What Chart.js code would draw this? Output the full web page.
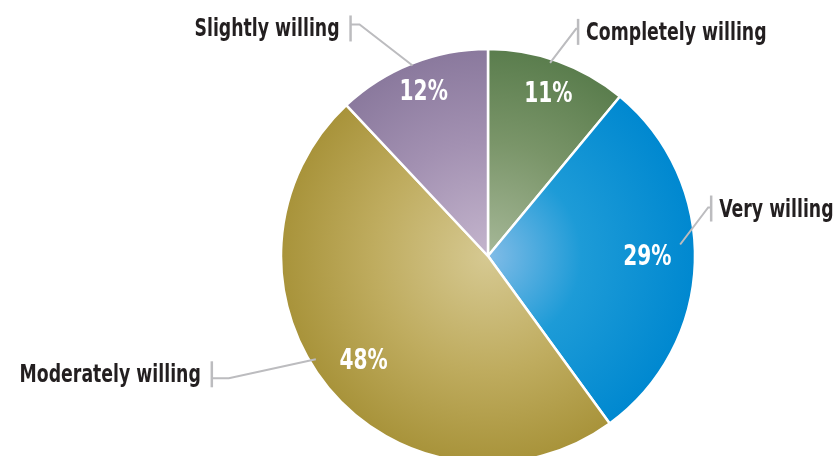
<!DOCTYPE html>
<html>
<head>
<meta charset="utf-8">
<script src="https://cdn.jsdelivr.net/npm/chart.js@4.4.1/dist/chart.umd.min.js"></script>
<style>
  html, body { margin: 0; padding: 0; background: #ffffff; overflow: hidden; }
  #wrap { width: 833px; height: 456px; position: relative; }
</style>
</head>
<body>
<div id="wrap"><canvas id="pie" width="833" height="456"></canvas></div>
<script>
// Survey: willingness shares
const categories = ['Completely willing', 'Very willing', 'Moderately willing', 'Slightly willing'];
const shares = [11, 29, 48, 12];

// Radial shading per slice: [centre, middle, rim]
const sliceShades = [
  ['#a6b898', '#7a9569', '#5a7d4d'],
  ['#82bce7', '#1d9bd7', '#0088d0'],
  ['#d6c992', '#bfac5f', '#a8933a'],
  ['#c4b5cd', '#a391b2', '#8a799d']
];
const shadeMid = [0.55, 0.45, 0.55, 0.55];

const PIE_RADIUS = 207;

// Percent label placement: position along the arc and radius fraction
const pctAlong = [0.51, 0.48, 0.50, 0.51];
const pctRadius = [0.845, 0.77, 0.78, 0.86];

// Callouts: anchor on slice (t along arc, radius fraction), elbow offset,
// bracket offset from elbow, text centre offset from elbow, side
const callouts = [
  { t: 0.45, r: 0.98, ex: 26,  ey: -34, bx: 2,   ty: 3,  side: 'right' },
  { t: 0.45, r: 0.93, ex: 28,  ey: -37, bx: 3,   ty: 1,  side: 'right' },
  { t: 0.55, r: 0.97, ex: -87, ey: 19,  bx: -17, ty: -4, side: 'left'  },
  { t: 0.50, r: 0.99, ex: -53, ey: -41, bx: -9,  ty: 4,  side: 'left'  }
];

const LABEL_FONT = 'bold 25px "DejaVu Sans Condensed", "Liberation Sans Narrow", sans-serif';
const PCT_FONT = 'bold 28px "DejaVu Sans Condensed", "Liberation Sans Narrow", sans-serif';
const LABEL_SQUEEZE = 0.77;
const PCT_SQUEEZE = 0.8;

function sliceFill(context) {
  const chart = context.chart;
  const i = context.dataIndex;
  const area = chart.chartArea;
  const s = sliceShades[i];
  if (!area) return s[2];
  const cx = (area.left + area.right) / 2;
  const cy = (area.top + area.bottom) / 2;
  const g = chart.ctx.createRadialGradient(cx, cy, 0, cx, cy, PIE_RADIUS);
  g.addColorStop(0, s[0]);
  g.addColorStop(shadeMid[i], s[1]);
  g.addColorStop(1, s[2]);
  return g;
}

function drawSqueezed(ctx, text, x, y, align, squeeze) {
  ctx.save();
  const w = ctx.measureText(text).width * squeeze;
  let left = x;
  if (align === 'right') left = x - w;
  else if (align === 'center') left = x - w / 2;
  ctx.translate(left, y);
  ctx.scale(squeeze, 1);
  ctx.textAlign = 'left';
  ctx.fillText(text, 0, 0);
  ctx.restore();
}

const calloutPlugin = {
  id: 'callouts',
  afterDatasetsDraw(chart) {
    const ctx = chart.ctx;
    const arcs = chart.getDatasetMeta(0).data;
    arcs.forEach((arc, i) => {
      const { x, y, startAngle, endAngle, outerRadius } =
        arc.getProps(['x', 'y', 'startAngle', 'endAngle', 'outerRadius'], true);

      // percent value inside the slice
      ctx.save();
      ctx.font = PCT_FONT;
      ctx.fillStyle = '#ffffff';
      ctx.textBaseline = 'alphabetic';
      const pa = startAngle + (endAngle - startAngle) * pctAlong[i];
      const pr = outerRadius * pctRadius[i];
      const px = x + Math.cos(pa) * pr;
      const py = y + Math.sin(pa) * pr;
      drawSqueezed(ctx, shares[i] + '%', px, py + 10, 'center', PCT_SQUEEZE);
      ctx.restore();

      // leader line + bracket + category name
      const c = callouts[i];
      const a = startAngle + (endAngle - startAngle) * c.t;
      const sx = x + Math.cos(a) * outerRadius * c.r;
      const sy = y + Math.sin(a) * outerRadius * c.r;
      const ex = sx + c.ex;
      const ey = sy + c.ey;
      const bx = ex + c.bx;
      const tc = ey + c.ty;

      ctx.save();
      ctx.strokeStyle = '#bcbcbf';
      ctx.lineWidth = 2;
      ctx.beginPath();
      ctx.moveTo(sx, sy);
      ctx.lineTo(ex, ey);
      ctx.lineTo(bx, ey);
      ctx.stroke();
      ctx.lineWidth = 2.5;
      ctx.beginPath();
      ctx.moveTo(bx, tc - 13);
      ctx.lineTo(bx, tc + 13);
      ctx.stroke();

      ctx.font = LABEL_FONT;
      ctx.fillStyle = '#231f20';
      ctx.textBaseline = 'alphabetic';
      if (c.side === 'right') {
        drawSqueezed(ctx, categories[i], bx + 8, tc + 8, 'left', LABEL_SQUEEZE);
      } else {
        drawSqueezed(ctx, categories[i], bx - 11, tc + 8, 'right', LABEL_SQUEEZE);
      }
      ctx.restore();
    });
  }
};

new Chart(document.getElementById('pie'), {
  type: 'pie',
  data: {
    labels: categories,
    datasets: [{
      data: shares,
      backgroundColor: sliceFill,
      borderColor: '#ffffff',
      borderWidth: 2.5,
      hoverOffset: 0
    }]
  },
  options: {
    responsive: false,
    animation: false,
    radius: PIE_RADIUS,
    layout: { padding: { left: 143, right: 0, top: 56, bottom: 0 } },
    plugins: {
      legend: { display: false },
      tooltip: { enabled: false }
    },
    events: []
  },
  plugins: [calloutPlugin]
});
</script>
</body>
</html>
